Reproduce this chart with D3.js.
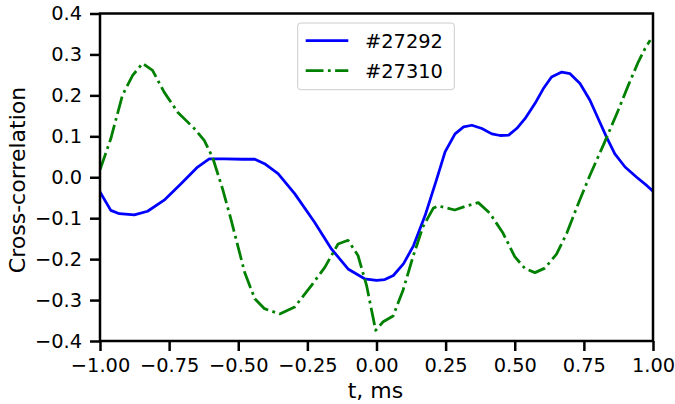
<!DOCTYPE html>
<html>
<head>
<meta charset="utf-8">
<script src="https://cdn.jsdelivr.net/npm/d3@7"></script>
<style>
  html, body { margin: 0; padding: 0; background: #ffffff; }
  svg { display: block; font-family: "DejaVu Sans", sans-serif; }
</style>
</head>
<body>
<svg id="chart" width="675" height="404"></svg>
<script>
// Series #27292 (solid blue)
const tBlue = [-1.0, -0.961, -0.93, -0.876, -0.828, -0.768, -0.707, -0.647, -0.605, -0.55,
  -0.484, -0.44, -0.405, -0.356, -0.296, -0.224, -0.163, -0.103, -0.043, 0.0,
  0.03, 0.061, 0.098, 0.134, 0.176, 0.218, 0.248, 0.284, 0.315, 0.345,
  0.381, 0.417, 0.447, 0.478, 0.507, 0.537, 0.573, 0.603, 0.633, 0.67,
  0.7, 0.736, 0.772, 0.802, 0.832, 0.862, 0.899, 0.941, 0.977, 1.0];
const vBlue = [-0.036, -0.081, -0.089, -0.092, -0.083, -0.056, -0.016, 0.025, 0.045, 0.045,
  0.044, 0.044, 0.033, 0.009, -0.04, -0.11, -0.175, -0.224, -0.248, -0.252,
  -0.25, -0.24, -0.211, -0.167, -0.093, -0.004, 0.062, 0.106, 0.123, 0.127,
  0.119, 0.106, 0.102, 0.103, 0.119, 0.143, 0.18, 0.216, 0.245, 0.257,
  0.253, 0.229, 0.188, 0.143, 0.098, 0.057, 0.025, 0.0, -0.02, -0.034];

// Series #27310 (dash-dot green)
const tGreen = [-1.0, -0.961, -0.919, -0.882, -0.846, -0.81, -0.768, -0.719, -0.659, -0.623,
  -0.593, -0.557, -0.527, -0.477, -0.44, -0.405, -0.35, -0.296, -0.235, -0.187,
  -0.139, -0.103, -0.067, -0.036, -0.003, 0.024, 0.06, 0.096, 0.132, 0.168,
  0.205, 0.223, 0.283, 0.326, 0.368, 0.41, 0.458, 0.5, 0.537, 0.573,
  0.609, 0.651, 0.688, 0.73, 0.772, 0.82, 0.869, 0.911, 0.947, 0.971, 0.99];
const vGreen = [0.018, 0.094, 0.2, 0.249, 0.278, 0.261, 0.208, 0.159, 0.119, 0.09,
  0.049, -0.028, -0.101, -0.232, -0.297, -0.321, -0.334, -0.317, -0.264, -0.22,
  -0.163, -0.154, -0.191, -0.264, -0.374, -0.353, -0.339, -0.276, -0.194, -0.121,
  -0.076, -0.07, -0.08, -0.07, -0.062, -0.088, -0.137, -0.194, -0.223, -0.233,
  -0.222, -0.188, -0.137, -0.064, 0.005, 0.078, 0.155, 0.225, 0.282, 0.314, 0.335];

const seriesNames = ["#27292", "#27310"];
const xTicks = [-1.0, -0.75, -0.5, -0.25, 0.0, 0.25, 0.5, 0.75, 1.0];
const yTicks = [-0.4, -0.3, -0.2, -0.1, 0.0, 0.1, 0.2, 0.3, 0.4];
const xLabel = "t, ms";
const yLabel = "Cross-correlation";

const svg = d3.select("#chart");
const L = 100, R = 653, T = 13.5, B = 341;

const x = d3.scaleLinear().domain([-1, 1]).range([L, R]);
const y = d3.scaleLinear().domain([-0.4, 0.4]).range([B, T]);

const tickFont = "19.4px";

// lines
const line = d3.line().x(d => x(d[0])).y(d => y(d[1]));
const blueData = tBlue.map((t, i) => [t, vBlue[i]]);
const greenData = tGreen.map((t, i) => [t, vGreen[i]]);

svg.append("clipPath").attr("id", "clip")
  .append("rect").attr("x", L).attr("y", T).attr("width", R - L).attr("height", B - T);

const plot = svg.append("g").attr("clip-path", "url(#clip)");
plot.append("path").datum(blueData).attr("d", line)
  .attr("fill", "none").attr("stroke", "#0000ff").attr("stroke-width", 2.78)
  .attr("stroke-linejoin", "round").attr("stroke-linecap", "butt");
plot.append("path").datum(greenData).attr("d", line)
  .attr("fill", "none").attr("stroke", "#008000").attr("stroke-width", 2.78)
  .attr("stroke-dasharray", "17.8,4.4,2.8,4.4")
  .attr("stroke-linejoin", "round").attr("stroke-linecap", "butt");

// axes
const xAxis = d3.axisBottom(x).tickValues(xTicks).tickFormat(d3.format(".2f"))
  .tickSize(10).tickPadding(7).tickSizeOuter(0);
const yAxis = d3.axisLeft(y).tickValues(yTicks).tickFormat(d3.format(".1f"))
  .tickSize(10).tickPadding(8).tickSizeOuter(0);

const gx = svg.append("g").attr("transform", `translate(0,${B})`).call(xAxis);
const gy = svg.append("g").attr("transform", `translate(${L},0)`).call(yAxis);
[gx, gy].forEach(g => {
  g.select(".domain").remove();
  g.selectAll(".tick line").attr("stroke", "#000").attr("stroke-width", 2.5);
  g.selectAll(".tick text").attr("fill", "#000").style("font-size", tickFont)
    .style("font-family", "'DejaVu Sans', sans-serif");
});

// frame
svg.append("rect").attr("x", L).attr("y", T).attr("width", R - L).attr("height", B - T)
  .attr("fill", "none").attr("stroke", "#000").attr("stroke-width", 2.5);

// axis labels
svg.append("text").attr("x", (L + R) / 2 - 1).attr("y", 398)
  .attr("text-anchor", "middle").style("font-size", "22px").attr("fill", "#000")
  .text(xLabel);
svg.append("text").attr("transform", "translate(25,180) rotate(-90)")
  .attr("text-anchor", "middle").style("font-size", "22px").attr("fill", "#000")
  .text(yLabel);

// legend
const lg = svg.append("g");
lg.append("rect").attr("x", 297.7).attr("y", 23).attr("width", 156.6).attr("height", 66.7)
  .attr("rx", 3).attr("fill", "#ffffff").attr("fill-opacity", 0.8)
  .attr("stroke", "#cccccc").attr("stroke-width", 1);
const legendItems = [
  { name: seriesNames[0], color: "#0000ff", dash: null, yy: 40.7 },
  { name: seriesNames[1], color: "#008000", dash: "17.8,4.4,2.8,4.4", yy: 70.7 }
];
legendItems.forEach(it => {
  const ln = lg.append("line").attr("x1", 305.7).attr("x2", 348.3)
    .attr("y1", it.yy).attr("y2", it.yy)
    .attr("stroke", it.color).attr("stroke-width", 2.78);
  if (it.dash) ln.attr("stroke-dasharray", it.dash);
  lg.append("text").attr("x", 365).attr("y", it.yy).attr("dy", "0.36em")
    .style("font-size", tickFont).attr("fill", "#000").text(it.name);
});
</script>
</body>
</html>
